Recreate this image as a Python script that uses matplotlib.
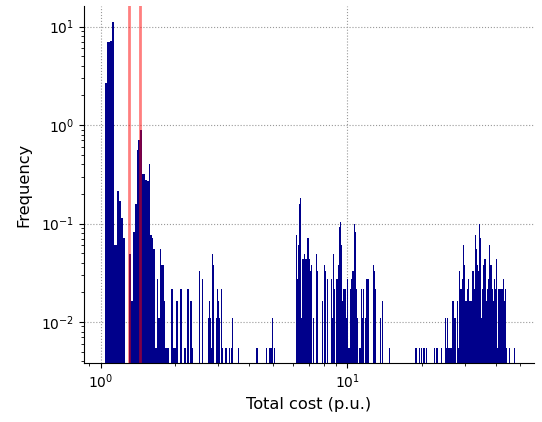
import numpy as np
import matplotlib
matplotlib.use("Agg")
import matplotlib.pyplot as plt

# histogram of total cost (density), linear bins
bin_start = 1.043
bin_w = 0.0238
unit = 0.00545  # density of one sample in one bin

# main peak, one count per bin
peak_counts = [486, 1266, 1299, 2018, 11, 39, 31, 21, 13, 0,
               0, 9, 3, 15, 29, 103, 129, 163, 58, 58,
               51, 50, 73, 14, 13, 10, 1, 5, 2, 10,
               7, 7, 3, 1, 1, 1, 0, 4, 4, 1,
               1, 3, 3, 0, 4, 4, 0, 0, 1, 0,
               4, 4, 0, 3, 3, 1, 0, 0, 0, 0,
               0, 6]

# sparse bins after the peak
tail_x = [2.576, 2.724, 2.750, 2.776, 2.802, 2.828, 2.855, 2.935, 2.963, 2.990,
          3.018, 3.075, 3.104, 3.192, 3.222, 3.313, 3.375, 3.406, 3.603, 4.262,
          4.301, 4.677, 4.810, 4.855, 4.900, 4.946, 5.039]
tail_n = [5, 2, 3, 2, 1, 9, 7, 2, 4, 3,
          2, 4, 1, 1, 1, 1, 1, 2, 1, 1,
          1, 1, 1, 1, 1, 2, 1]

# second cluster (~6-15)
mid_x = [6.186, 6.244, 6.302, 6.361, 6.421, 6.481, 6.542, 6.603, 6.665, 6.727,
         6.790, 6.854, 6.918, 6.983, 7.048, 7.114, 7.248, 7.457, 7.527, 7.884,
         8.032, 8.108, 8.260, 8.574, 8.654, 8.735, 8.817, 8.983, 9.067, 9.152,
         9.238, 9.324, 9.412, 9.500, 9.589, 9.679, 9.770, 9.861, 9.954, 10.05,
         10.14, 10.24, 10.33, 10.43, 10.53, 10.62, 10.72, 10.82, 10.93, 11.13,
         11.24, 11.34, 11.45, 11.55, 11.77, 11.88, 11.99, 12.11, 12.68, 12.80,
         12.92, 13.54, 13.79, 14.73]
mid_n = [14, 5, 11, 29, 33, 2, 8, 8, 9, 8,
         8, 13, 13, 8, 6, 7, 2, 9, 6, 3,
         7, 6, 5, 5, 2, 9, 4, 5, 5, 7,
         17, 19, 11, 3, 4, 4, 4, 2, 5, 1,
         1, 4, 5, 6, 6, 18, 15, 4, 2, 1,
         1, 4, 2, 4, 2, 5, 5, 5, 7, 6,
         4, 2, 3, 1]

# third cluster (~19-47)
far_x = [18.76, 18.94, 19.47, 19.84, 20.21, 20.40, 20.79, 22.40, 22.82, 23.03,
         23.91, 24.82, 25.05, 25.28, 25.52, 25.76, 26.00, 26.24, 26.49, 26.74,
         26.99, 27.24, 27.75, 28.01, 28.28, 28.54, 28.81, 29.08, 29.35, 29.62,
         29.90, 30.18, 30.46, 30.75, 31.04, 31.33, 31.62, 31.92, 32.22, 32.52,
         32.82, 33.13, 33.44, 33.76, 34.07, 34.39, 34.71, 35.04, 35.37, 35.70,
         36.03, 36.37, 36.71, 37.05, 37.40, 37.75, 38.10, 38.46, 38.82, 39.18,
         39.55, 39.92, 40.30, 40.67, 41.05, 41.44, 41.83, 42.22, 42.61, 43.01,
         43.42, 43.82, 45.07, 47.22]
far_n = [1, 1, 1, 1, 1, 1, 1, 1, 1, 1,
         1, 2, 1, 2, 1, 1, 1, 1, 3, 3,
         2, 2, 3, 1, 6, 4, 4, 5, 11, 7,
         3, 3, 4, 5, 3, 3, 3, 6, 6, 4,
         14, 10, 7, 6, 18, 13, 2, 4, 7, 8,
         8, 3, 4, 5, 11, 7, 7, 4, 3, 5,
         4, 8, 1, 4, 4, 4, 4, 4, 5, 3,
         4, 1, 1, 1]

# reference cost lines
ref_costs = [1.30, 1.45]

fig, ax = plt.subplots(figsize=(5.42, 4.22), dpi=100)
fig.subplots_adjust(left=0.155, right=0.985, bottom=0.14, top=0.986)

ax.set_xscale('log')
ax.set_yscale('log')

peak = np.array(peak_counts)
edges = bin_start + bin_w * np.arange(len(peak))
keep = peak > 0
ax.bar(edges[keep], peak[keep] * unit, width=bin_w, align='edge',
       color='darkblue', linewidth=0)

# thin bins drawn at least one pixel wide
xs = np.array(tail_x + mid_x + far_x)
ns = np.array(tail_n + mid_n + far_n)
ax.bar(xs, ns * unit, width=np.maximum(bin_w, xs * 0.0094), align='edge',
       color='darkblue', linewidth=0)

for c in ref_costs:
    ax.axvline(c, color='red', alpha=0.5, lw=2)

ax.set_xlim(0.857, 56.9)
ax.set_ylim(0.00384, 16.2)
ax.set_axisbelow(True)
ax.grid(True, which='major', ls=':', color='#999999', lw=0.8)
ax.spines[['top', 'right']].set_visible(False)
ax.set_xlabel('Total cost (p.u.)', fontsize=11.7)
ax.set_ylabel('Frequency', fontsize=11.7, labelpad=7)

fig.savefig('out.png', dpi=100)
